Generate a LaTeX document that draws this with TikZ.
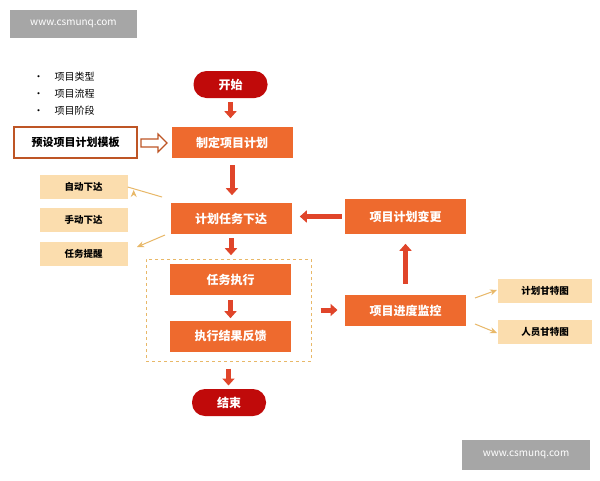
\documentclass[tikz,border=0pt]{standalone}
\usepackage{fontspec}
\setmainfont{Noto Sans CJK SC}
\usetikzlibrary{arrows.meta}
\definecolor{org}{HTML}{EE6A2E}
\definecolor{dred}{HTML}{C00A0A}
\definecolor{beige}{HTML}{FBDDAE}
\definecolor{tan}{HTML}{E8B868}
\definecolor{arr}{HTML}{E0452A}
\begin{document}
\begin{tikzpicture}[x=1pt,y=-1pt,
 box/.style={fill=org,text=white,font=\bfseries\fontsize{12}{12}\selectfont,minimum width=121pt,minimum height=31pt,inner sep=0pt},
 pill/.style={fill=dred,text=white,rounded corners=13pt,font=\bfseries\fontsize{12}{12}\selectfont,minimum width=74pt,minimum height=27pt,inner sep=0pt},
 side/.style={fill=beige,font=\bfseries\fontsize{9.5}{10}\selectfont,minimum width=88pt,minimum height=24pt,inner sep=0pt},
 fat/.style={draw=arr,line width=5pt,-{Triangle[width=12pt,length=7pt]}},
 thin/.style={draw=tan,line width=1pt,-{Stealth[width=6pt,length=7pt]}},
 wm/.style={fill=black!35,text=white,font=\fontsize{10}{10}\selectfont,inner sep=0pt}]
\path[use as bounding box,fill=white] (0,0) rectangle (600,480);
\node[wm,minimum width=127pt,minimum height=28pt] (w1) at (73.5,24) {www.csmunq.com};
\node[wm,minimum width=128pt,minimum height=30pt] (w2) at (526,455) {www.csmunq.com};
\foreach \t/\y in {项目类型/77,项目流程/94,项目阶段/111}
  \node[anchor=west,font=\fontsize{10}{10}\selectfont] at (30,\y) {•\hspace{11pt}\t};
\node[pill] (start) at (230.5,84.5) {开始};
\node[box] (plan) at (232,142.5) {制定项目计划};
\node[draw=org!80!black,line width=1.3pt,fill=white,font=\bfseries\fontsize{11}{11}\selectfont,minimum width=123pt,minimum height=31pt,inner sep=0pt] (tpl) at (75.5,142.5) {预设项目计划模板};
\node[box] (issue) at (231,218.5) {计划任务下达};
\node[box] (exec) at (230.5,279.5) {任务执行};
\node[box] (fb) at (230.5,336) {执行结果反馈};
\node[pill] (end) at (229,402.5) {结束};
\node[draw=tan,dashed,line width=1pt,minimum width=165pt,minimum height=102pt] (grp) at (228.5,310) {};
\node[box] (mon) at (405.5,310.5) {项目进度监控};
\node[box,minimum height=35pt] (chg) at (405.5,216.5) {项目计划变更};
\node[side] (a1) at (83.5,187) {自动下达};
\node[side] (a2) at (83.5,219.5) {手动下达};
\node[side] (a3) at (83.5,254) {任务提醒};
\node[side,minimum width=94pt] (g1) at (545,290.5) {计划甘特图};
\node[side,minimum width=94pt] (g2) at (545,332) {人员甘特图};
\draw[fat] (start.south)++(0,4) -- ++(0,16);
\draw[fat] (plan.south)++(0,7) -- ++(0,30);
\draw[fat] (issue.south)++(0,4) -- ++(0,17);
\draw[fat] (exec.south)++(0,5) -- ++(0,18);
\draw[fat] (grp.south)++(0,7) -- ++(0,17);
\draw[fat] (grp.east)++(9,0) -- ++(17,0);
\draw[fat] (mon.north)++(0,-11) -- ++(0,-40);
\draw[fat] (chg.west)++(-3,0) -- ++(-42,0);
\draw[org!80!black,line width=1.2pt] (141,139) -- (158,139) -- (158,134) -- (167,143) -- (158,152) -- (158,147) -- (141,147) -- cycle;
\draw[thin] (162,197) -- (a1.east)++(6,3);
\draw[thin] (165,235) -- (137,247);
\draw[thin] (475,298) -- (497,290);
\draw[thin] (475,324) -- (497,333);
\end{tikzpicture}
\end{document}
